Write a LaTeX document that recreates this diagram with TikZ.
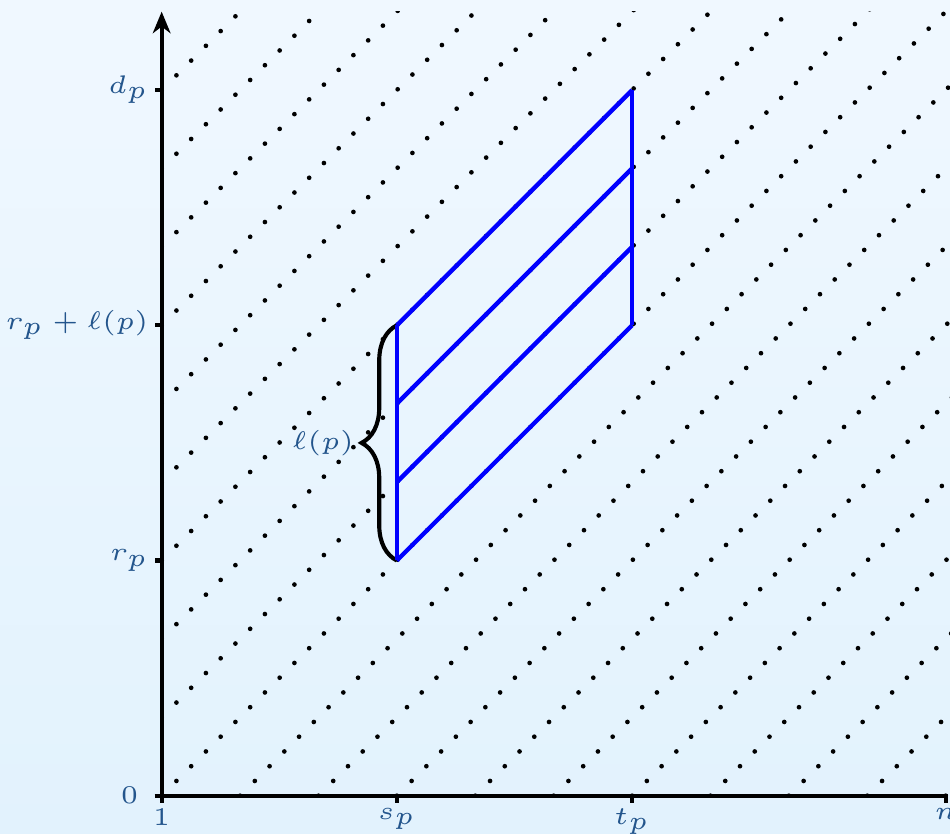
\documentclass[tikz,border=0pt]{standalone}
\usetikzlibrary{arrows.meta,decorations.pathreplacing}
\definecolor{labblue}{RGB}{35,85,140}
\definecolor{bgtop}{RGB}{240,248,255}
\definecolor{bgbot}{RGB}{226,242,253}
\begin{document}
\begin{tikzpicture}[axis/.style={line width=1.5pt}, dotline/.style={line width=1.7pt, line cap=round, dash pattern=on 0pt off 7.57pt}, strip/.style={line width=1.6pt, blue}, lab/.style={text=labblue, font=\tiny, scale=1.85, inner sep=1pt}, >={Stealth[length=7.8pt,width=6.4pt,inset=2.4pt]}]
\shade[top color=bgtop, bottom color=bgbot] (-2.062,-0.476) rectangle (10.055,10.149);
\useasboundingbox (-2.062,-0.476) rectangle (10.055,10.149);
\begin{scope}
\clip (0,0) rectangle (10.06,10);
\foreach \c in {1,...,9} \draw[dotline] (0,\c) -- (11-\c,11);
\foreach \c in {0,...,10} \draw[dotline] (\c,0) -- (\c+11,11);
\end{scope}
\coordinate (low) at (3,3);
\coordinate (high) at (3,6);
\draw[line width=1.5pt, decorate, decoration={brace, amplitude=0.45cm}] (low) -- (high);
\node[lab, anchor=east] (len) at (2.53,4.5) {$\ell(p)$};
\foreach \k in {3,4,5,6} \draw[strip] (3,\k) -- (6,\k+3);
\draw[strip] (low) -- (high);
\draw[strip] (6,6) -- (6,9);
\draw[axis, ->] (0,-0.09) -- (0,10);
\draw[axis] (-0.09,0) -- (10,0) -- (10,-0.09);
\foreach \x in {3,6} \draw[axis] (\x,0) -- (\x,-0.09);
\foreach \y in {3,6,9} \draw[axis] (0,\y) -- (-0.09,\y);
\node[lab, anchor=north] (one) at (0,-0.09) {$1$};
\node[lab, anchor=north] (sp) at (3,-0.09) {$s_p$};
\node[lab, anchor=north] (tp) at (6,-0.09) {$t_p$};
\node[lab, anchor=north] (n) at (10,-0.09) {$n$};
\node[lab, anchor=east] (zero) at (-0.22,0) {$0$};
\node[lab, anchor=east] (rp) at (-0.09,3) {$r_p$};
\node[lab, anchor=east] (rpl) at (-0.09,6) {$r_p+\ell(p)$};
\node[lab, anchor=east] (dp) at (-0.09,9) {$d_p$};
\end{tikzpicture}
\end{document}
